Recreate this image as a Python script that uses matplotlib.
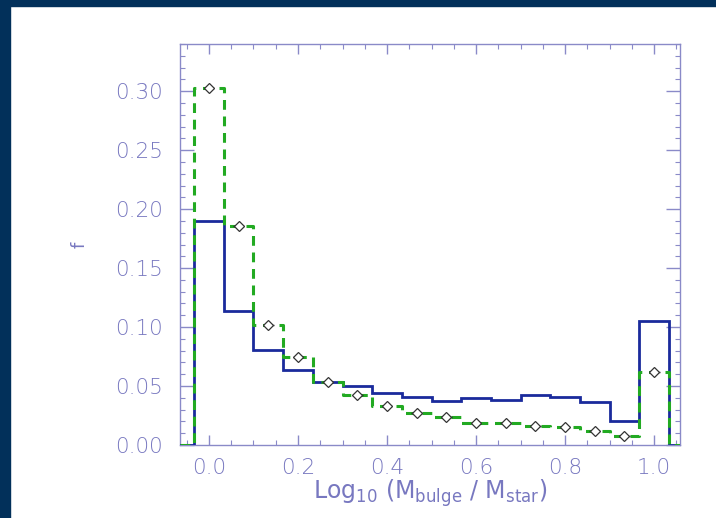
import numpy as np
import matplotlib
matplotlib.use("Agg")
import matplotlib.pyplot as plt
from matplotlib.patches import Rectangle

# Data
bin_centers = np.arange(16) / 15.0
blue_f = [0.190, 0.1136, 0.0805, 0.064, 0.0534, 0.050, 0.0443, 0.041,
          0.0373, 0.040, 0.038, 0.042, 0.041, 0.0364, 0.020, 0.105]
green_f = [0.3025, 0.186, 0.102, 0.0743, 0.0537, 0.0424, 0.033, 0.0274,
           0.0235, 0.019, 0.019, 0.016, 0.0153, 0.0122, 0.0076, 0.062]
xticks = [0.0, 0.2, 0.4, 0.6, 0.8, 1.0]
yticks = [0.00, 0.05, 0.10, 0.15, 0.20, 0.25, 0.30]

W, H = 716, 518
fig = plt.figure(figsize=(W / 100, H / 100), dpi=100)
fig.patch.set_facecolor("white")
navy = "#02305a"
fig.patches.append(Rectangle((0, 1 - 6 / H), 1, 6 / H, transform=fig.transFigure,
                             color=navy, zorder=0))
fig.patches.append(Rectangle((0, 0), 10 / W, 1, transform=fig.transFigure,
                             color=navy, zorder=0))

ax = fig.add_axes([180 / W, 1 - 445 / H, 500 / W, 401 / H])
xlim = (-0.065, 1.058)
ylim = (0.0, 0.34)
ax.set_xlim(*xlim)
ax.set_ylim(*ylim)

width = 1 / 15.0
edges = np.concatenate([bin_centers - width / 2, [bin_centers[-1] + width / 2]])

def step_xy(vals):
    xs = [xlim[0], edges[0]]
    ys = [0, 0]
    for i, v in enumerate(vals):
        xs += [edges[i], edges[i + 1]]
        ys += [v, v]
    xs += [edges[-1], xlim[1]]
    ys += [0, 0]
    return xs, ys

bx, by = step_xy(blue_f)
gx, gy = step_xy(green_f)
ax.plot(bx, by, color="#1a2a9c", lw=2.0, solid_joinstyle="miter", zorder=3)
ax.plot(gx, gy, color="#22aa22", lw=2.2, dashes=(3.2, 2.2), zorder=4)
ax.errorbar(bin_centers, green_f, xerr=0.012, fmt="D", ms=5.5, mfc="white",
            mec="#333333", mew=0.9, ecolor="#222222", elinewidth=1.0,
            capsize=0, zorder=5)

axc = "#8a8ac8"
txtc = "#7878c0"
for s in ax.spines.values():
    s.set_color(axc)
    s.set_linewidth(1.0)

ax.set_xticks(xticks)
ax.set_xticklabels([f"{v:.1f}" for v in xticks])
ax.set_yticks(yticks)
ax.set_yticklabels([f"{v:.2f}" for v in yticks])
ax.set_xticks(np.arange(-0.05, 1.06, 0.05), minor=True)
ax.set_yticks(np.arange(0, 0.341, 0.01), minor=True)
ax.tick_params(which="both", direction="in", top=True, right=True,
               color=axc, labelcolor=txtc, labelsize=15.5)
ax.tick_params(which="major", length=7, width=1.0)
ax.tick_params(which="minor", length=3.5, width=0.8)
ax.tick_params(axis="y", which="major", length=10)
ax.tick_params(axis="x", pad=9)
ax.tick_params(axis="y", pad=12)
for lab in ax.get_xticklabels() + ax.get_yticklabels():
    lab.set_fontfamily("DejaVu Sans")
    lab.set_fontweight("light")

ax.set_xlabel(r"Log$_{10}$ (M$_{\rm bulge}$ / M$_{\rm star}$)", color=txtc,
              fontsize=17, labelpad=0)
ax.set_ylabel("f", color=txtc, fontsize=13)
ax.yaxis.set_label_coords(-91 / 500, 0.5)

fig.savefig("out.png", dpi=100, facecolor=fig.get_facecolor())
